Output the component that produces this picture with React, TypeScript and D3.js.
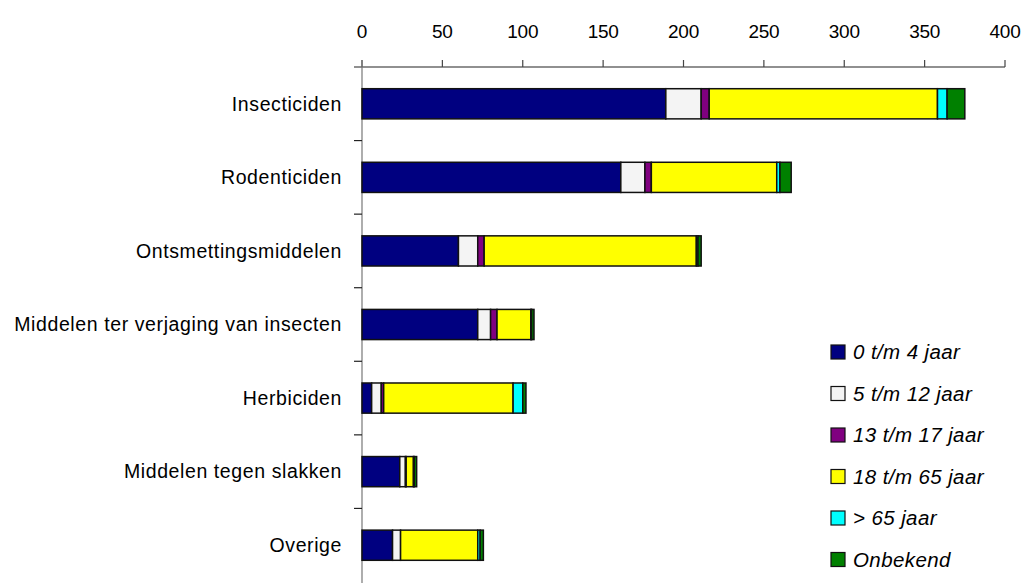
import React from "react";
import * as d3 from "d3";

// categories, top to bottom
const categories = [
  "Insecticiden",
  "Rodenticiden",
  "Ontsmettingsmiddelen",
  "Middelen ter verjaging van insecten",
  "Herbiciden",
  "Middelen tegen slakken",
  "Overige",
];

const seriesNames = [
  "0 t/m 4 jaar",
  "5 t/m 12 jaar",
  "13 t/m 17 jaar",
  "18 t/m 65 jaar",
  "> 65 jaar",
  "Onbekend",
];
const seriesColors = ["#000080", "#f4f4f4", "#800080", "#ffff00", "#00ffff", "#008000"];

// values per category, one array per series
const age0to4 = [189, 161, 60, 72, 6, 23.5, 19];
const age5to12 = [22, 15, 12, 8, 6, 3.5, 5];
const age13to17 = [5, 4, 4, 4, 1.5, 0.5, 0];
const age18to65 = [142, 78, 132, 21, 80.5, 4.5, 48];
const age65plus = [6, 2, 1, 0.5, 6, 0.5, 1.5];
const unknown = [11, 7, 2, 1.5, 2, 1.5, 2];

const xTicks = [0, 50, 100, 150, 200, 250, 300, 350, 400];

const W = 1026;
const H = 583;
const x0 = 362;
const x1 = 1005;
const axisY = 67;
const bottom = 582;

export default function App() {
  const x = d3.scaleLinear().domain([0, 400]).range([x0, x1]);
  const y = d3
    .scaleBand()
    .domain(categories)
    .range([axisY, bottom])
    .paddingInner(0.59)
    .paddingOuter(0.295);

  const rows = categories.map((c, i) => ({
    cat: c,
    vals: [age0to4[i], age5to12[i], age13to17[i], age18to65[i], age65plus[i], unknown[i]],
  }));
  const bandStep = (bottom - axisY) / categories.length;

  return (
    <svg
      width={W}
      height={H}
      style={{ position: "absolute", left: 0, top: 0, display: "block" }}
      fontFamily="'Liberation Sans', Arial, sans-serif"
    >
      <rect width={W} height={H} fill="#fff" />
      {/* x axis on top */}
      <line x1={x0 - 8} x2={x1} y1={axisY} y2={axisY} stroke="#222" strokeWidth={1.2} />
      {xTicks.map((t) => (
        <g key={t}>
          <line x1={x(t)} x2={x(t)} y1={axisY - 7} y2={axisY} stroke="#444" strokeWidth={1.2} />
          <text x={x(t)} y={38} textAnchor="middle" fontSize={19} letterSpacing={-0.3} fill="#000">
            {t}
          </text>
        </g>
      ))}
      {/* y axis */}
      <line x1={x0} x2={x0} y1={axisY - 7} y2={H} stroke="#777" strokeWidth={1.2} />
      {categories.map((c, i) =>
        i === 0 ? null : (
          <line
            key={c}
            x1={x0 - 8}
            x2={x0}
            y1={axisY + i * bandStep}
            y2={axisY + i * bandStep}
            stroke="#222"
            strokeWidth={1.2}
          />
        )
      )}
      {categories.map((c) => (
        <text
          key={c}
          x={342}
          y={(y(c) as number) + y.bandwidth() / 2}
          dy="0.35em"
          textAnchor="end"
          fontSize={19.5}
          letterSpacing={0.6}
          fill="#000"
        >
          {c}
        </text>
      ))}
      {/* stacked bars */}
      {rows.map((r) => {
        let acc = 0;
        return (
          <g key={r.cat}>
            {r.vals.map((v, k) => {
              const start = acc;
              acc += v;
              if (v <= 0) return null;
              return (
                <rect
                  key={k}
                  x={x(start)}
                  y={y(r.cat)}
                  width={x(start + v) - x(start)}
                  height={y.bandwidth()}
                  fill={seriesColors[k]}
                  stroke="#111"
                  strokeWidth={1.5}
                />
              );
            })}
          </g>
        );
      })}
      {/* legend */}
      {seriesNames.map((s, k) => (
        <g key={s} transform={`translate(831, ${352 + k * 41.5})`}>
          <rect x={0} y={-7} width={14} height={14} fill={seriesColors[k]} stroke="#111" strokeWidth={1.2} />
          <text x={22} y={0} dy="0.36em" fontSize={20.5} letterSpacing={0.4} fontStyle="italic" fill="#000">
            {s}
          </text>
        </g>
      ))}
    </svg>
  );
}
